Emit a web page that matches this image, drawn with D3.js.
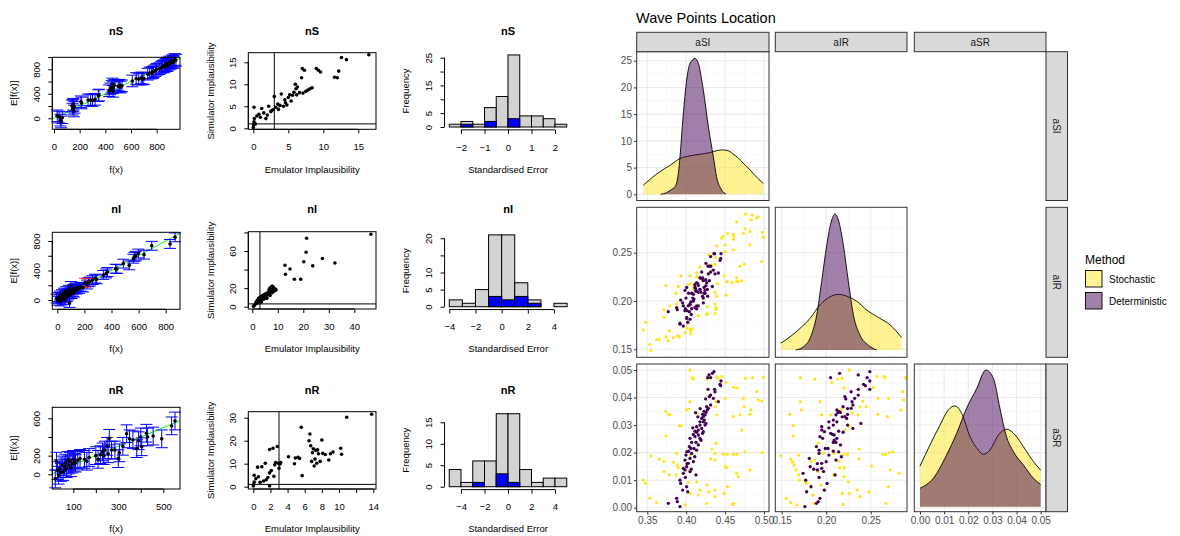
<!DOCTYPE html>
<html>
<head>
<meta charset="utf-8">
<script src="https://cdn.jsdelivr.net/npm/d3@7"></script>
<style>
  body { margin: 0; background: #fff; }
  svg { display: block; font-family: "Liberation Sans", Arial, Helvetica, sans-serif; }
</style>
</head>
<body>
<svg width="1180" height="536"></svg>
<script>
// ---------------- left block: emulator diagnostics ----------------
// [f(x), E[f(x)]]
const calibNS = [[25,40],[40,20],[50,-30],[55,-60],[65,10],[140,200],[145,150],[150,230],[155,120],[160,180],[150,210],[210,270],[215,250],[265,300],[285,300],[300,290],[320,310],[345,370],[350,380],[430,450],[440,480],[450,520],[455,560],[460,500],[460,440],[470,540],[500,520],[510,540],[520,510],[530,530],[610,610],[640,650],[660,640],[680,660],[690,640],[700,650],[730,720],[745,740],[760,740],[770,750],[775,760],[790,780],[800,800],[820,810],[835,830],[845,850],[860,840],[860,860],[870,880],[880,900],[880,860],[890,870],[900,920],[900,900],[910,900],[920,940],[930,930],[930,910],[940,960],[950,950]];
const calibNI = [[-5,20],[5,-10],[10,40],[15,10],[20,60],[25,-20],[30,30],[35,80],[40,20],[45,50],[50,100],[55,0],[60,70],[65,120],[70,40],[75,90],[80,60],[85,140],[90,-40],[95,100],[100,190],[105,80],[110,130],[115,110],[120,150],[125,100],[130,160],[140,140],[150,170],[160,150],[170,180],[180,175],[190,170],[220,210],[230,240],[240,250],[260,270],[280,290],[290,280],[340,340],[360,360],[370,380],[430,425],[440,420],[487,493],[531,470],[561,560],[570,585],[580,600],[598,630],[640,615],[697,735],[832,760],[869,850]];
const calibNIRed = [[205,235]];
const calibNR = [[20,-50],[25,140],[30,40],[35,-10],[40,60],[45,20],[50,100],[55,30],[60,80],[65,120],[70,60],[75,150],[80,100],[85,140],[90,70],[95,110],[100,160],[105,130],[110,120],[120,150],[130,170],[150,160],[160,140],[170,180],[200,200],[210,160],[220,210],[230,240],[235,200],[240,260],[250,300],[255,220],[260,385],[270,260],[285,260],[300,168],[305,230],[320,300],[337,435],[350,380],[365,370],[382,275],[390,360],[400,400],[404,295],[425,440],[430,400],[455,410],[493,380],[537,519],[552,571]];
const errHalf = [95, 60, 95];

// [emulator implausibility, simulator implausibility]
const implNS = [[0,0.2],[0.05,0.8],[0.1,1.5],[0.15,2.2],[0.3,1.0],[0.5,2.8],[0.1,4.8],[0.8,3.2],[1.0,2.5],[1.2,4.5],[1.5,3.5],[2.0,3.0],[2.2,5.0],[2.5,3.8],[2.8,4.2],[3.0,7.2],[3.2,4.8],[3.5,5.5],[3.8,5.2],[4.0,7.8],[4.3,5.0],[4.6,5.8],[4.8,5.3],[5.0,7.0],[5.2,7.6],[5.4,6.2],[5.6,7.5],[5.8,8.2],[6.0,10.0],[6.2,7.6],[6.3,9.4],[6.6,8.1],[6.9,11.5],[7.0,13.6],[7.1,8.0],[7.3,13.2],[7.5,8.4],[7.8,8.7],[8.1,9.0],[8.4,9.2],[9.0,13.6],[9.3,13.2],[9.6,12.8],[11.6,11.6],[12.0,11.5],[12.2,13.0],[12.6,16.1],[13.3,15.6],[16.5,16.7],[2.6,4.0],[3.6,4.3],[4.5,6.5],[6.1,9.0],[1.8,2.2]];
const implNI = [[0.5,0.5],[0.8,1.5],[1.2,3],[1.5,5],[1.8,4],[2.0,7],[2.3,6],[2.5,9],[2.7,8],[3.0,10],[3.2,7],[3.5,11],[3.6,5],[3.8,9],[4.0,12],[4.2,10],[4.5,8],[4.7,13],[5.0,11],[5.2,14],[5.5,12],[5.7,9],[6.0,15],[6.2,13],[6.5,18],[6.7,16],[6.9,20],[7.0,12],[7.2,17],[7.4,21],[7.6,19],[7.8,15],[8.0,22],[8.2,18],[8.4,20],[8.7,17],[9.0,19],[9.3,18],[2.2,4],[3.3,6],[4.4,11],[5.6,10],[6.8,14],[7.7,22],[12.8,44.6],[13,34.9],[14.8,40.6],[16.5,29.5],[19,29.5],[20.2,48.5],[21.1,58.6],[21.3,73.7],[23.7,44],[27.5,52],[32.4,47],[46.5,78]];
const implNR = [[0,0.3],[0.05,1.0],[0.1,2.0],[0.1,5.0],[0.3,3.5],[0.5,8.5],[0.6,4.3],[0.8,1.9],[1.0,8.7],[1.2,2.5],[1.4,10.2],[1.5,3.0],[1.7,4.0],[1.9,6.0],[1.9,16.2],[1.9,0.3],[2.1,7.0],[2.3,16.7],[2.4,4.5],[2.5,9.5],[2.6,10.5],[2.8,17.5],[2.9,10.2],[3.0,8.0],[3.1,9.8],[3.2,10.5],[4.1,13.0],[4.8,10.0],[4.9,12.5],[5.2,12.8],[5.4,12.3],[5.6,25.8],[5.7,4.8],[6.5,20.0],[6.6,22.9],[6.7,17.8],[6.8,11.0],[7.0,16.5],[7.1,9.0],[7.3,15.8],[7.4,10.2],[7.5,16.0],[7.6,14.3],[7.8,11.0],[8.0,20.3],[8.1,14.5],[8.4,14.0],[8.8,11.6],[9.0,14.3],[9.3,15.1],[10.2,16.7],[10.3,14.1],[10.9,30.2],[13.8,31.5],[7.2,12.0],[6.9,14.8]];
const implCut = [[3, 1], [3, 3], [3, 1]]; // [vertical, horizontal]

// standardised error histograms
const histNS_breaks = [-2.5,-2,-1.5,-1,-0.5,0,0.5,1,1.5,2,2.5];
const histNS_all = [1,2,1,7,11,26,4,4,3,1];
const histNS_blue = [0,1,0,2,0,3,0,0,0,0];
const histNI_breaks = [-4,-3,-2,-1,0,1,2,3,4,5];
const histNI_all = [2,1,5,21,21,7,2,0,1];
const histNI_blue = [0,0,0,3,2,3,1,0,0];
const histNR_breaks = [-5,-4,-3,-2,-1,0,1,2,3,4,5];
const histNR_all = [4,1,6,6,17,17,4,1,2,2];
const histNR_blue = [0,0,1,0,3,1,0,0,0,0];

const rowTitles = ["nS", "nI", "nR"];

// ---------------- right block: wave points (ggpairs) ----------------
const detSI = [.4357,.4336,.4293,.4276,.4314,.4434,.4443,.4370,.4314,.4297,.4349,.4413,.4314,.4263,.4284,.4272,.4254,.4242,.4212,.4220,.4199,.4233,.4177,.4220,.4254,.4242,.4177,.4134,.4199,.4156,.4113,.4220,.4134,.4156,.4092,.4113,.4177,.4049,.4070,.4126,.4156,.4040,.4100,.4134,.4006,.4070,.3997,.4049,.3984,.4092,.4027,.4006,.3963,.3984,.4049,.3963,.4126,.3920,.3929,.4006,.3954,.4019,.3877,.3770,.3920,.3886,.4365,.4447,
  .4150,.4085,.4190,.4060,.4120,.4250,.4010,.4180,.4030,.4210,.3990,.4110,.4280,.4230,.4065];
const detIR = [.249,.215,.236,.205,.246,.242,.244,.228,.236,.221,.232,.229,.230,.219,.228,.212,.216,.211,.224,.221,.223,.208,.212,.203,.239,.208,.224,.195,.230,.195,.214,.198,.219,.209,.207,.193,.212,.196,.208,.211,.216,.189,.202,.192,.214,.192,.203,.181,.211,.200,.195,.182,.195,.190,.197,.174,.210,.177,.201,.183,.198,.178,.193,.189,.176,.191,.249,.249,
  .218,.203,.209,.199,.213,.222,.190,.224,.208,.205,.192,.217,.236,.214,.186];
const detSR = [.0494,.0488,.0482,.0472,.0472,.0448,.0443,.0421,.0409,.0403,.0397,.0385,.0373,.0367,.0361,.0355,.0346,.0337,.0339,.0331,.0324,.0318,.0312,.0312,.0306,.0300,.0300,.0294,.0288,.0282,.0278,.0276,.0274,.0264,.0266,.0258,.0252,.0252,.0237,.0237,.0228,.0222,.0215,.0209,.0203,.0197,.0191,.0179,.0173,.0167,.0161,.0149,.0143,.0137,.0131,.0125,.0119,.0100,.0088,.0076,.0064,.0058,.0034,.0016,.0004,.0022,.0430,.0460,
  .0330,.0290,.0245,.0215,.0345,.0395,.0160,.0360,.0205,.0270,.0110,.0185,.0430,.0350,.0140];

const stoSI = [.4049,.4079,.4092,.4272,.4392,.4404,.4456,.4512,.4606,.4649,.4850,.4992,.4906,.4970,.4734,.4747,.4833,.4820,.4499,.4383,.4374,.4049,.4027,.4006,.4134,.4392,.3740,.3770,.3791,.3911,.3929,.3740,.4327,.4383,.4606,.4692,.4477,.4529,.4606,.4649,.4756,.4370,.4314,.4370,.4499,.4520,.3547,.3654,.3714,.3834,.3877,.3886,.3899,.4057,.4092,.4057,.4134,.4027,.4177,.4272,.4284,.4370,.4370,.4263,.4533,.4490,.4649,.4670,.4820,.3449,.3479,.3534,.3620,.3714,.3783,.3869,.3984,.4049,.4156,.4614,.4593,.4927,.4713,.4764,.4980];
const stoIR = [.226,.171,.213,.187,.257,.218,.265,.206,.253,.220,.289,.266,.286,.241,.270,.238,.284,.258,.258,.193,.245,.171,.217,.172,.229,.205,.216,.159,.195,.163,.226,.163,.237,.191,.269,.236,.267,.220,.264,.224,.275,.209,.237,.187,.251,.220,.149,.160,.183,.162,.197,.164,.215,.169,.214,.166,.225,.177,.235,.194,.248,.197,.238,.186,.270,.226,.282,.220,.272,.170,.178,.155,.160,.191,.169,.208,.167,.218,.185,.267,.219,.287,.221,.290,.271];
const stoSR = [.0500,.0472,.0467,.0467,.0476,.0470,.0476,.0455,.0437,.0435,.0472,.0473,.0421,.0387,.0397,.0367,.0355,.0339,.0397,.0385,.0367,.0385,.0358,.0355,.0343,.0337,.0349,.0339,.0337,.0298,.0297,.0260,.0213,.0234,.0331,.0337,.0194,.0194,.0194,.0194,.0203,.0197,.0177,.0173,.0151,.0145,.0188,.0176,.0167,.0165,.0197,.0155,.0145,.0191,.0169,.0137,.0094,.0092,.0064,.0082,.0058,.0064,.0040,.0016,.0076,.0052,.0125,.0113,.0137,.0100,.0088,.0034,.0018,.0131,.0119,.0119,.0010,.0052,.0046,.0016,.0012,.0391,.0282,.0470,.0200];

// density curves: [value, density]
const densSI_sto = [[0.3449,1.7],[0.355,3.0],[0.366,4.2],[0.38,5.5],[0.392,6.7],[0.405,7.2],[0.4177,7.5],[0.4306,7.8],[0.44,8.2],[0.4477,8.3],[0.455,8.1],[0.4606,7.5],[0.467,6.8],[0.4734,5.8],[0.48,4.9],[0.486,3.9],[0.492,3.0],[0.4992,2.0]];
const densSI_det = [[0.367,0],[0.3749,0.3],[0.381,0.9],[0.3856,1.4],[0.3899,3.9],[0.392,7.0],[0.396,14.5],[0.4006,21.4],[0.4049,24.5],[0.4113,25.4],[0.4156,24.5],[0.422,19.5],[0.4284,12.7],[0.4349,7.0],[0.439,3.3],[0.4456,0.8],[0.451,0.05]];
const densIR_sto = [[0.149,1.7],[0.1594,3.3],[0.1706,5.4],[0.1818,7.9],[0.1931,11.3],[0.2043,13.3],[0.2137,13.9],[0.2249,13.3],[0.2343,12.2],[0.2455,10.0],[0.2605,7.9],[0.2717,6.3],[0.2848,3.1]];
const densIR_det = [[0.1657,0],[0.1743,0.8],[0.1818,2.9],[0.1893,8.7],[0.1949,17.1],[0.2006,26.2],[0.2062,32.5],[0.2099,34],[0.2137,32.5],[0.2193,26.2],[0.2249,17.1],[0.2306,8.7],[0.238,3.7],[0.2474,1.2],[0.2567,0]];
const densSR_sto = [[0,11.9],[0.0041,18.0],[0.0083,23.9],[0.0117,28.3],[0.0145,29.5],[0.0173,27.3],[0.0207,20.5],[0.0242,16.6],[0.0262,15.3],[0.029,16.6],[0.0325,21.0],[0.0359,22.7],[0.0394,21.0],[0.0428,17.6],[0.047,13.2],[0.05,10.7]];
const densSR_det = [[0,5.4],[0.0055,8.3],[0.011,15.1],[0.0152,21.5],[0.0193,28.8],[0.0235,34.6],[0.0273,40],[0.0304,37.6],[0.0331,28.8],[0.0356,21.0],[0.0387,16.1],[0.0428,12.2],[0.047,8.3],[0.05,6.5]];

const varNames = ["aSI", "aIR", "aSR"];
const methods = ["Stochastic", "Deterministic"];
const methodColor = {Stochastic: "#FDE725", Deterministic: "#440154"};

// ================= drawing =================
const svg = d3.select("svg");
svg.append("rect").attr("width", 1180).attr("height", 536).attr("fill", "#fff");
const minus = d => String(d).replace("-", "\u2212");

function rAxisBottom(scale, ticks, labels, y) {
  const ax = svg.append("g").attr("transform", `translate(0,${y})`)
    .call(d3.axisBottom(scale).tickValues(ticks).tickSize(4).tickSizeOuter(0)
      .tickFormat(d => labels.includes(d) ? minus(d) : ""));
  ax.select(".domain").attr("d", `M${scale(ticks[0])},0H${scale(ticks[ticks.length - 1])}`);
  ax.attr("font-family", null).attr("font-size", 9.5);
  ax.selectAll("line,path").attr("stroke", "#000");
  ax.selectAll("text").attr("y", 17.5).attr("dy", "0.35em").attr("fill", "#000");
}

function rAxisLeft(scale, ticks, labels, x) {
  const ax = svg.append("g").attr("transform", `translate(${x},0)`)
    .call(d3.axisLeft(scale).tickValues(ticks).tickSize(4).tickSizeOuter(0)
      .tickFormat(d => labels.includes(d) ? minus(d) : ""));
  ax.select(".domain").attr("d", `M0,${scale(ticks[0])}V${scale(ticks[ticks.length - 1])}`);
  ax.attr("font-family", null).attr("font-size", 9.5);
  ax.selectAll("line,path").attr("stroke", "#000");
  ax.selectAll("text").attr("x", 0).attr("dy", "0.35em").attr("text-anchor", "middle")
    .attr("fill", "#000").attr("transform", "translate(-15.5,0) rotate(-90)");
}

function rLabels(title, cx, titleY, xlab, xlabY, ylab, ylabX, cy) {
  svg.append("text").attr("x", cx).attr("y", titleY).attr("dy", "0.35em")
    .attr("text-anchor", "middle").attr("font-weight", "bold").attr("font-size", 11).text(title);
  svg.append("text").attr("x", cx).attr("y", xlabY).attr("dy", "0.35em")
    .attr("text-anchor", "middle").attr("font-size", 9.5).text(xlab);
  svg.append("text").attr("transform", `translate(${ylabX},${cy}) rotate(-90)`).attr("dy", "0.35em")
    .attr("text-anchor", "middle").attr("font-size", 9.5).text(ylab);
}

function rBox(b) {
  svg.append("rect").attr("x", b.x0).attr("y", b.y0).attr("width", b.x1 - b.x0).attr("height", b.y1 - b.y0)
    .attr("fill", "none").attr("stroke", "#000").attr("stroke-width", 1);
}

const titleY = [30.7, 209, 390];
const xlabY = [169.3, 348.3, 528.3];

// ---- column 1: emulator vs simulator ----
const calibSets = [
  {data: calibNS, red: [], box: {x0: 52.3, x1: 180, y0: 57.3, y1: 129.3},
   x: d3.scaleLinear().domain([0, 800]).range([54, 156.7]), y: d3.scaleLinear().domain([0, 800]).range([118.3, 69.3]),
   xt: [0,200,400,600,800], xl: [0,200,400,600,800], yt: [0,200,400,600,800,1000], yl: [0,400,800]},
  {data: calibNI, red: calibNIRed, box: {x0: 52.3, x1: 180, y0: 232.3, y1: 309.3},
   x: d3.scaleLinear().domain([0, 800]).range([57.3, 165.7]), y: d3.scaleLinear().domain([0, 800]).range([300, 241]),
   xt: [0,200,400,600,800], xl: [0,200,400,600,800], yt: [0,200,400,600,800], yl: [0,400,800]},
  {data: calibNR, red: [], box: {x0: 52.3, x1: 180, y0: 407.3, y1: 489},
   x: d3.scaleLinear().domain([100, 500]).range([73.3, 163.3]), y: d3.scaleLinear().domain([0, 600]).range([474.3, 418.3]),
   xt: [100,200,300,400,500], xl: [100,300,500], yt: [0,200,400,600], yl: [0,200,600]}
];

calibSets.forEach((s, i) => {
  const b = s.box;
  const dom = [s.x.invert(b.x0), s.x.invert(b.x1)];
  const g = svg.append("g");
  const clipId = "clipc" + i;
  svg.append("clipPath").attr("id", clipId).append("rect")
    .attr("x", b.x0).attr("y", b.y0).attr("width", b.x1 - b.x0).attr("height", b.y1 - b.y0);
  g.append("line").attr("clip-path", `url(#${clipId})`)
    .attr("x1", s.x(dom[0])).attr("y1", s.y(dom[0])).attr("x2", s.x(dom[1])).attr("y2", s.y(dom[1]))
    .attr("stroke", "#00FF00").attr("stroke-width", 1);
  const bars = (pts, col) => pts.forEach(([f, e]) => {
    const cx = s.x(f), yt = s.y(e + errHalf[i]), yb = s.y(e - errHalf[i]);
    g.append("line").attr("x1", cx).attr("x2", cx).attr("y1", yt).attr("y2", yb).attr("stroke", col);
    g.append("line").attr("x1", cx - 6).attr("x2", cx + 6).attr("y1", yt).attr("y2", yt).attr("stroke", col);
    g.append("line").attr("x1", cx - 6).attr("x2", cx + 6).attr("y1", yb).attr("y2", yb).attr("stroke", col);
  });
  bars(s.data, "#0000FF");
  bars(s.red, "#FF0000");
  g.selectAll("circle.pt").data(s.data.concat(s.red)).join("circle")
    .attr("cx", d => s.x(d[0])).attr("cy", d => s.y(d[1])).attr("r", 1.8).attr("fill", "#000");
  rBox(b);
  rAxisBottom(s.x, s.xt, s.xl, b.y1);
  rAxisLeft(s.y, s.yt, s.yl, b.x0);
  rLabels(rowTitles[i], (b.x0 + b.x1) / 2, titleY[i], "f(x)", xlabY[i], "E[f(x)]", b.x0 - 38.5, (b.y0 + b.y1) / 2);
});

// ---- column 2: implausibility ----
const implSets = [
  {data: implNS, box: {x0: 248.3, x1: 376, y0: 52.7, y1: 129.3},
   x: d3.scaleLinear().domain([0, 15]).range([253.3, 358.3]), y: d3.scaleLinear().domain([0, 15]).range([128.3, 62.3]),
   xt: [0,5,10,15], xl: [0,5,10,15], yt: [0,5,10,15], yl: [0,5,10,15]},
  {data: implNI, box: {x0: 248.3, x1: 376, y0: 231.7, y1: 309},
   x: d3.scaleLinear().domain([0, 40]).range([252.3, 354.3]), y: d3.scaleLinear().domain([0, 60]).range([306.7, 251]),
   xt: [0,10,20,30,40], xl: [0,10,20,30,40], yt: [0,20,40,60,80], yl: [0,20,60]},
  {data: implNR, box: {x0: 248.3, x1: 376, y0: 411.7, y1: 489},
   x: d3.scaleLinear().domain([0, 14]).range([253.3, 373.3]), y: d3.scaleLinear().domain([0, 30]).range([486.7, 417.7]),
   xt: [0,2,4,6,8,10,12,14], xl: [0,2,4,6,8,10,14], yt: [0,10,20,30], yl: [0,10,20,30]}
];

implSets.forEach((s, i) => {
  const b = s.box;
  const g = svg.append("g");
  g.selectAll("circle").data(s.data).join("circle")
    .attr("cx", d => s.x(d[0])).attr("cy", d => s.y(d[1])).attr("r", 1.8).attr("fill", "#000");
  const [vx, hy] = implCut[i];
  g.append("line").attr("x1", s.x(vx)).attr("x2", s.x(vx)).attr("y1", b.y0).attr("y2", b.y1).attr("stroke", "#000");
  g.append("line").attr("x1", b.x0).attr("x2", b.x1).attr("y1", s.y(hy)).attr("y2", s.y(hy)).attr("stroke", "#000");
  rBox(b);
  rAxisBottom(s.x, s.xt, s.xl, b.y1);
  rAxisLeft(s.y, s.yt, s.yl, b.x0);
  rLabels(rowTitles[i], (b.x0 + b.x1) / 2, titleY[i], "Emulator Implausibility", xlabY[i],
    "Simulator Implausibility", b.x0 - 37.5, (b.y0 + b.y1) / 2);
});

// ---- column 3: histograms ----
const histSets = [
  {breaks: histNS_breaks, all: histNS_all, blue: histNS_blue,
   x: d3.scaleLinear().domain([-2, 2]).range([461, 555]), y: d3.scaleLinear().domain([0, 25]).range([127, 57.7]),
   xt: [-2,-1,0,1,2], xl: [-2,-1,0,1,2], yt: [0,5,10,15,20,25], yl: [0,5,15,25]},
  {breaks: histNI_breaks, all: histNI_all, blue: histNI_blue,
   x: d3.scaleLinear().domain([-4, 4]).range([449.3, 554]), y: d3.scaleLinear().domain([0, 20]).range([306.7, 238.3]),
   xt: [-4,-2,0,2,4], xl: [-4,-2,0,2,4], yt: [0,5,10,15,20], yl: [0,5,10,20]},
  {breaks: histNR_breaks, all: histNR_all, blue: histNR_blue,
   x: d3.scaleLinear().domain([-4, 4]).range([461, 555]), y: d3.scaleLinear().domain([0, 15]).range([486.7, 422.3]),
   xt: [-4,-2,0,2,4], xl: [-4,-2,0,2,4], yt: [0,5,10,15], yl: [0,5,10,15]}
];

histSets.forEach((s, i) => {
  const g = svg.append("g");
  const bins = s.all.map((c, k) => ({x0: s.breaks[k], x1: s.breaks[k + 1], n: c, b: s.blue[k]}));
  g.selectAll("rect.all").data(bins).join("rect")
    .attr("x", d => s.x(d.x0)).attr("width", d => s.x(d.x1) - s.x(d.x0))
    .attr("y", d => s.y(d.n)).attr("height", d => s.y(0) - s.y(d.n))
    .attr("fill", "#D3D3D3").attr("stroke", "#000").attr("stroke-width", 1);
  g.selectAll("rect.blue").data(bins).join("rect")
    .attr("x", d => s.x(d.x0)).attr("width", d => s.x(d.x1) - s.x(d.x0))
    .attr("y", d => s.y(d.b)).attr("height", d => s.y(0) - s.y(d.b))
    .attr("fill", "#0000FF").attr("stroke", "#000").attr("stroke-width", 1);
  const lo = s.breaks[0], hi = s.breaks[s.breaks.length - 1];
  const ymax = d3.max(s.all);
  const axisY = s.y(-0.04 * ymax);
  const axisX = s.x(lo - 0.04 * (hi - lo));
  rAxisBottom(s.x, s.xt, s.xl, axisY);
  rAxisLeft(s.y, s.yt, s.yl, axisX);
  rLabels(rowTitles[i], (s.x(lo) + s.x(hi)) / 2, titleY[i], "Standardised Error", xlabY[i],
    "Frequency", axisX - 38.5, (s.y(0) + s.y(ymax)) / 2);
});

// ================= ggpairs block =================
const colBox = [{x0: 636.7, x1: 769}, {x0: 775.3, x1: 907}, {x0: 914.3, x1: 1046}];
const rowBox = [{y0: 51.7, y1: 200.5}, {y0: 207.3, y1: 357.3}, {y0: 364, y1: 511.7}];
const xSc = [
  d3.scaleLinear().domain([0.35, 0.50]).range([647.3, 764]),
  d3.scaleLinear().domain([0.15, 0.25]).range([781.7, 870.7]),
  d3.scaleLinear().domain([0, 0.05]).range([920, 1040.7])
];
const ySc = [
  d3.scaleLinear().domain([0, 25]).range([194.3, 60.7]),
  d3.scaleLinear().domain([0.15, 0.25]).range([349.3, 252.7]),
  d3.scaleLinear().domain([0, 0.05]).range([507.7, 370])
];
const densY = [ySc[0],
  d3.scaleLinear().domain([0, 34]).range([350, 214]),
  d3.scaleLinear().domain([0, 40]).range([506.7, 370])];
const xMajor = [[0.35,0.40,0.45,0.50],[0.15,0.20,0.25],[0,0.01,0.02,0.03,0.04,0.05]];
const xMinor = [[0.375,0.425,0.475],[0.175,0.225,0.275],[0.005,0.015,0.025,0.035,0.045]];
const yMajor = [[0,5,10,15,20,25],[0.15,0.20,0.25],[0,0.01,0.02,0.03,0.04,0.05]];
const yMinor = [[2.5,7.5,12.5,17.5,22.5],[0.175,0.225,0.275],[0.005,0.015,0.025,0.035,0.045]];
const yFmt = [d3.format("d"), d3.format(".2f"), d3.format(".2f")];
const dens = [[densSI_sto, densSI_det], [densIR_sto, densIR_det], [densSR_sto, densSR_det]];
const cols = {
  Stochastic: [stoSI, stoIR, stoSR],
  Deterministic: [detSI, detIR, detSR]
};
const fillA = {Stochastic: "rgba(253,231,37,0.5)", Deterministic: "rgba(68,1,84,0.5)"};
const GG_TEXT = 10;

svg.append("text").attr("x", 636).attr("y", 23).attr("font-size", 14.5).attr("fill", "#000")
  .text("Wave Points Location");

for (let r = 0; r < 3; r++) {
  for (let c = 0; c <= r; c++) {
    const px = colBox[c], py = rowBox[r];
    const clipId = `gp${r}${c}`;
    svg.append("clipPath").attr("id", clipId).append("rect")
      .attr("x", px.x0).attr("y", py.y0).attr("width", px.x1 - px.x0).attr("height", py.y1 - py.y0);
    const g = svg.append("g").attr("clip-path", `url(#${clipId})`);
    g.append("rect").attr("x", px.x0).attr("y", py.y0).attr("width", px.x1 - px.x0)
      .attr("height", py.y1 - py.y0).attr("fill", "#fff");
    xMinor[c].forEach(v => g.append("line").attr("x1", xSc[c](v)).attr("x2", xSc[c](v))
      .attr("y1", py.y0).attr("y2", py.y1).attr("stroke", "#F2F2F2").attr("stroke-width", 0.55));
    yMinor[r].forEach(v => g.append("line").attr("y1", ySc[r](v)).attr("y2", ySc[r](v))
      .attr("x1", px.x0).attr("x2", px.x1).attr("stroke", "#F2F2F2").attr("stroke-width", 0.55));
    xMajor[c].forEach(v => g.append("line").attr("x1", xSc[c](v)).attr("x2", xSc[c](v))
      .attr("y1", py.y0).attr("y2", py.y1).attr("stroke", "#EBEBEB").attr("stroke-width", 1.07));
    yMajor[r].forEach(v => g.append("line").attr("y1", ySc[r](v)).attr("y2", ySc[r](v))
      .attr("x1", px.x0).attr("x2", px.x1).attr("stroke", "#EBEBEB").attr("stroke-width", 1.07));

    if (r === c) {
      const yd = densY[r];
      methods.forEach((m, k) => {
        const pts = dens[r][k];
        const area = d3.area().x(d => xSc[c](d[0])).y0(yd(0)).y1(d => yd(d[1])).curve(d3.curveMonotoneX);
        const line = d3.line().x(d => xSc[c](d[0])).y(d => yd(d[1])).curve(d3.curveMonotoneX);
        g.append("path").datum(pts).attr("d", area).attr("fill", fillA[m]);
        g.append("path").datum(pts).attr("d", line).attr("fill", "none")
          .attr("stroke", "#000").attr("stroke-width", 0.9);
      });
    } else {
      methods.forEach(m => {
        const xs = cols[m][c], ys = cols[m][r];
        g.selectAll(null).data(xs).join("circle")
          .attr("cx", d => xSc[c](d)).attr("cy", (d, k) => ySc[r](ys[k]))
          .attr("r", 1.65).attr("fill", methodColor[m]);
      });
    }
    svg.append("rect").attr("x", px.x0).attr("y", py.y0).attr("width", px.x1 - px.x0)
      .attr("height", py.y1 - py.y0).attr("fill", "none").attr("stroke", "#333").attr("stroke-width", 1);
  }
}

// strips
colBox.forEach((px, c) => {
  svg.append("rect").attr("x", px.x0).attr("y", 32.3).attr("width", px.x1 - px.x0).attr("height", 19.4)
    .attr("fill", "#D9D9D9").attr("stroke", "#333").attr("stroke-width", 1);
  svg.append("text").attr("x", (px.x0 + px.x1) / 2).attr("y", 42).attr("dy", "0.35em")
    .attr("text-anchor", "middle").attr("font-size", GG_TEXT).attr("fill", "#1A1A1A").text(varNames[c]);
});
rowBox.forEach((py, r) => {
  svg.append("rect").attr("x", 1046).attr("y", py.y0).attr("width", 21.5).attr("height", py.y1 - py.y0)
    .attr("fill", "#D9D9D9").attr("stroke", "#333").attr("stroke-width", 1);
  svg.append("text").attr("transform", `translate(${1056.75},${(py.y0 + py.y1) / 2}) rotate(90)`)
    .attr("dy", "0.35em").attr("text-anchor", "middle").attr("font-size", GG_TEXT).attr("fill", "#1A1A1A")
    .text(varNames[r]);
});

// axes
function ggStyle(ax) {
  ax.select(".domain").remove();
  ax.attr("font-family", null).attr("font-size", GG_TEXT);
  ax.selectAll("line").attr("stroke", "#333");
  ax.selectAll("text").attr("fill", "#4D4D4D");
}
rowBox.forEach((py, r) => {
  const ax = svg.append("g").attr("transform", `translate(${colBox[0].x0},0)`)
    .call(d3.axisLeft(ySc[r]).tickValues(yMajor[r]).tickSize(2.75).tickPadding(2).tickFormat(yFmt[r]));
  ggStyle(ax);
});
colBox.forEach((px, c) => {
  const ax = svg.append("g").attr("transform", `translate(0,${rowBox[2].y1})`)
    .call(d3.axisBottom(xSc[c]).tickValues(xMajor[c]).tickSize(2.75).tickPadding(2).tickFormat(d3.format(".2f")));
  ggStyle(ax);
});

// legend
const lg = svg.append("g").attr("transform", "translate(1085,0)");
lg.append("text").attr("x", 0).attr("y", 260).attr("dy", "0.35em").attr("font-size", 12).text("Method");
methods.forEach((m, k) => {
  const y0 = 270.5 + k * 22;
  lg.append("rect").attr("x", 0.5).attr("y", y0).attr("width", 16.5).attr("height", 16.5)
    .attr("fill", fillA[m]).attr("stroke", "#000").attr("stroke-width", 0.9);
  lg.append("text").attr("x", 24).attr("y", y0 + 8.5).attr("dy", "0.35em").attr("font-size", GG_TEXT).text(m);
});
</script>
</body>
</html>
